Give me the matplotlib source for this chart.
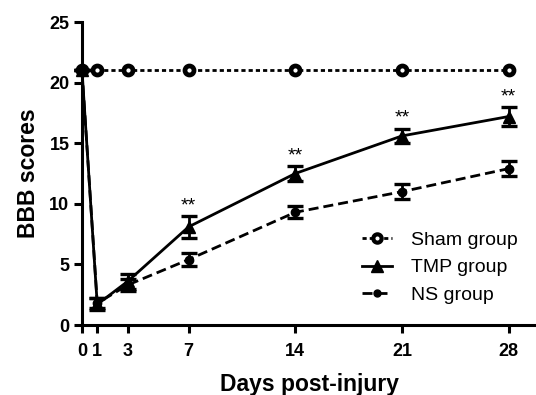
import matplotlib
matplotlib.use("Agg")
import matplotlib.pyplot as plt
from matplotlib.lines import Line2D

days = [0, 1, 3, 7, 14, 21, 28]
sham = [21, 21, 21, 21, 21, 21, 21]
tmp = [21, 1.7, 3.6, 8.1, 12.5, 15.6, 17.2]
tmp_err = [0, 0.5, 0.6, 0.9, 0.6, 0.6, 0.8]
ns = [21, 1.8, 3.3, 5.4, 9.3, 11.0, 12.9]
ns_err = [0, 0.4, 0.5, 0.5, 0.5, 0.6, 0.6]
star_days = [7, 14, 21, 28]
xticks = [0, 1, 3, 7, 14, 21, 28]
yticks = [0, 5, 10, 15, 20, 25]
labels = ['Sham group', 'TMP group', 'NS group']

plt.rcParams['font.family'] = ['Liberation Sans', 'DejaVu Sans']

fig = plt.figure(figsize=(5.36, 3.95), dpi=100)
ax = fig.add_axes([82/536, 70/395, (536-82)/536, (325-22)/395])

lw = 2.0
sham_ls = (0, (1.5, 1.1))
ns_ls = (0, (3.6, 1.8))
ax.plot(days, sham, linestyle=sham_ls, color='black', lw=lw,
        marker='o', markersize=6.5, markerfacecolor='white', markeredgecolor='black',
        markeredgewidth=3.4, zorder=3, clip_on=False)
ax.errorbar(days, tmp, yerr=tmp_err, color='black', lw=lw, marker='^', markersize=9,
            capsize=5.5, capthick=2.4, elinewidth=lw, zorder=4, clip_on=False)
ax.errorbar(days, ns, yerr=ns_err, color='black', lw=lw, linestyle=ns_ls,
            marker='o', markersize=6, capsize=5.5, capthick=2.4, elinewidth=lw,
            zorder=4, clip_on=False)

for d in star_days:
    i = days.index(d)
    ax.text(d, tmp[i] + tmp_err[i] + 0.15, '**', ha='center', va='bottom', fontsize=14)

ax.set_xlim(0, 29.8)
ax.set_ylim(0, 25)
ax.set_xticks(xticks)
ax.set_yticks(yticks)
for s in ['top', 'right']:
    ax.spines[s].set_visible(False)
for s in ['left', 'bottom']:
    ax.spines[s].set_linewidth(2.2)
ax.tick_params(width=2.2, length=6, direction='out', labelsize=13)
ax.tick_params(axis='x', pad=7)
ax.tick_params(axis='y', pad=3)
for lab in ax.get_xticklabels() + ax.get_yticklabels():
    lab.set_fontweight('bold')
ax.set_xlabel('Days post-injury', fontsize=16.5, fontweight='bold', labelpad=9)
ax.set_ylabel('BBB scores', fontsize=16.5, fontweight='bold', labelpad=7)

handles = [
    Line2D([], [], color='black', lw=lw, linestyle=sham_ls, marker='o', markersize=6,
           markerfacecolor='white', markeredgecolor='black', markeredgewidth=3),
    Line2D([], [], color='black', lw=lw, marker='^', markersize=8),
    Line2D([], [], color='black', lw=lw, linestyle=ns_ls, marker='o', markersize=5),
]
leg = ax.legend(handles, labels, loc='lower right', bbox_to_anchor=(0.99, 0.025),
                frameon=False, fontsize=14, handlelength=1.5, handletextpad=1.0,
                labelspacing=0.5, borderpad=0.2)

fig.savefig('out.png', dpi=100)
